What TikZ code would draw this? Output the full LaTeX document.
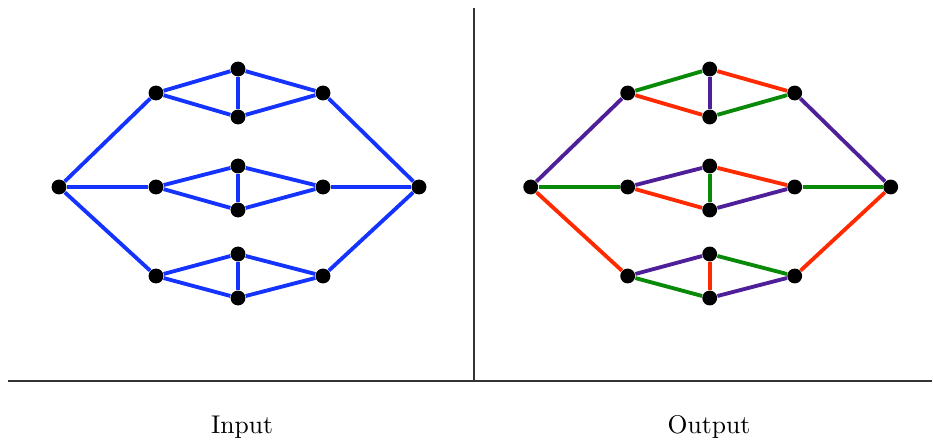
\documentclass[tikz,border=0pt]{standalone}
\usepackage{tikz}
\usetikzlibrary{positioning}
\definecolor{gblue}{HTML}{1433FF}
\definecolor{gred}{HTML}{FF2A00}
\definecolor{ggreen}{HTML}{088A08}
\definecolor{gpurple}{HTML}{4F1F99}
\tikzset{
  dot/.style={circle,fill=black,inner sep=0pt,minimum size=5.8pt},
  edge/.style={line width=1.5pt},
  frame/.style={line width=0.45pt,black!80},
  caption/.style={font=\normalsize},
}
\begin{document}
\begin{tikzpicture}[x=0.01372cm,y=-0.01372cm]
  \useasboundingbox (0,0) rectangle (933,440);
  % the two graphs, same vertices
  \foreach \p/\dx in {in/0, out/471.7} {
    \node[dot] (\p L) at (59+\dx,187) {};
    \node[dot] (\p R) at (419+\dx,187) {};
    \foreach \n/\x/\y in {a/156/93, b/238/69, c/238/117, d/323/93,
                          e/156/187, f/238/166, g/238/210, h/323/187,
                          i/156/276, j/238/254, k/238/298, l/323/276}
      \node[dot] (\p\n) at (\x+\dx,\y) {};
  }
  % input: all blue
  \foreach \u/\v in {L/a, L/e, L/i, a/b, a/c, b/c, b/d, c/d, d/R,
                     e/f, e/g, f/g, f/h, g/h, h/R,
                     i/j, i/k, j/k, j/l, k/l, l/R}
    \draw[edge,gblue] (in\u) -- (in\v);
  % output: coloured edges
  \foreach \u/\v/\c in {L/a/gpurple, L/e/ggreen, L/i/gred,
                        a/b/ggreen, a/c/gred, b/c/gpurple, b/d/gred, c/d/ggreen, d/R/gpurple,
                        e/f/gpurple, e/g/gred, f/g/ggreen, f/h/gred, g/h/gpurple, h/R/ggreen,
                        i/j/gpurple, i/k/ggreen, j/k/gred, j/l/ggreen, k/l/gpurple, l/R/gred}
    \draw[edge,\c] (out\u) -- (out\v);
  % frame
  \draw[frame] (474,8) -- (474,381);
  \draw[frame] (8,381) -- (932,381);
  \node[caption] (incap) at (242,427) {Input};
  \node[caption] (outcap) at (709,427) {Output};
\end{tikzpicture}
\end{document}
